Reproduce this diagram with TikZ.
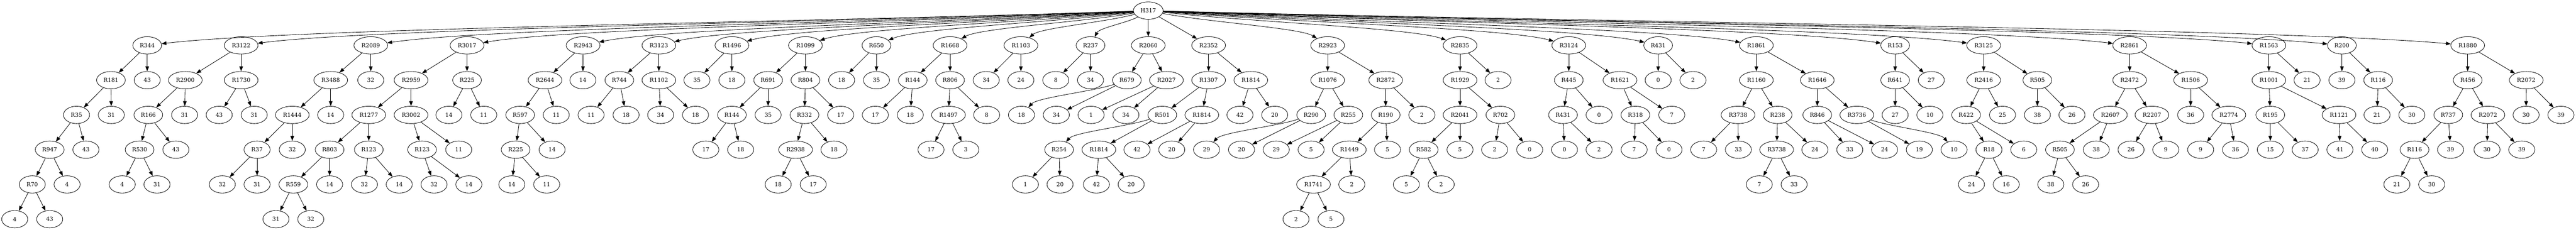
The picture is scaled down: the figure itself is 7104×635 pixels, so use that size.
\documentclass[tikz,border=0pt]{standalone}
\usepackage{fontspec}
\setmainfont{DejaVu Serif}
\usetikzlibrary{shapes.geometric,arrows.meta,calc}
\tikzset{
  gv/.style={draw, ellipse, line width=0.9pt, inner xsep=5.6pt, inner ysep=0pt,
    minimum width=54pt, minimum height=35.9pt, font=\fontsize{11.6pt}{13pt}\selectfont},
  conn/.style={line width=0.9pt, -{Triangle[length=10pt,width=7.5pt]}}
}
\newcommand\nd[4]{\node[gv] (T#1) at ({#3},{-29.3-96*#4}) {#2};}
\newcommand\E[3]{\draw[conn] (T#1) -- (T#2); \draw[conn] (T#1) -- (T#3);}
\newcommand\CV[2]{\draw[conn] (T#1) .. controls ($(T#1)!0.33!(T#2)$) and ($(T#1)!0.85!(T#2)+(0,33.6)$) .. (T#2);}
\begin{document}
\begin{tikzpicture}[x=0.75pt,y=0.75pt]
\useasboundingbox (0,0) rectangle (7104,-635);
\nd{h}{H317}{3166.6}{0}
% a
\nd{a1}{R344}{406}{1}
\nd{a11}{R181}{306}{2}
\nd{a12}{43}{406}{2}
\nd{a111}{R35}{211}{3}
\nd{a112}{31}{307}{3}
\nd{a1111}{R947}{137}{4}
\nd{a1112}{43}{237}{4}
\nd{a11111}{R70}{89}{5}
\nd{a11112}{4}{185}{5}
\nd{a111111}{4}{40.6}{6}
\nd{a111112}{43}{137}{6}
% b
\nd{b}{R3122}{665}{1}
\nd{b1}{R2900}{511}{2}
\nd{b2}{R1730}{665}{2}
\nd{b11}{R166}{409}{3}
\nd{b12}{31}{509}{3}
\nd{b111}{R530}{385}{4}
\nd{b112}{43}{485}{4}
\nd{b1111}{4}{337}{5}
\nd{b1112}{31}{433}{5}
\nd{b21}{43}{604.5}{3}
\nd{b22}{31}{701}{3}
% c
\nd{c}{R2089}{1022.5}{1}
\nd{c1}{R3488}{912}{2}
\nd{c2}{32}{1022.5}{2}
\nd{c11}{R1444}{806}{3}
\nd{c12}{14}{912}{3}
\nd{c111}{R37}{709}{4}
\nd{c112}{32}{806}{4}
\nd{c1111}{32}{613}{5}
\nd{c1112}{31}{709}{5}
% d
\nd{d}{R3017}{1288}{1}
\nd{d1}{R2959}{1133.5}{2}
\nd{d2}{R225}{1288}{2}
\nd{d11}{R1277}{1017}{3}
\nd{d12}{R3002}{1133.5}{3}
\nd{d111}{R803}{909}{4}
\nd{d112}{R123}{1017}{4}
\nd{d1111}{R559}{809}{5}
\nd{d1112}{14}{909}{5}
\nd{d11111}{31}{761}{6}
\nd{d11112}{32}{857}{6}
\nd{d1121}{32}{1005}{5}
\nd{d1122}{14}{1101}{5}
\nd{d121}{R123}{1164}{4}
\nd{d122}{11}{1265}{4}
\nd{d1211}{32}{1197}{5}
\nd{d1212}{14}{1293}{5}
\nd{d21}{14}{1238}{3}
\nd{d22}{11}{1334}{3}
% e
\nd{e}{R2943}{1608}{1}
\nd{e1}{R2644}{1503}{2}
\nd{e2}{14}{1607.5}{2}
\nd{e11}{R597}{1434.5}{3}
\nd{e12}{11}{1534}{3}
\nd{e111}{R225}{1422}{4}
\nd{e112}{14}{1522.5}{4}
\nd{e1111}{14}{1411.5}{5}
\nd{e1112}{11}{1507.6}{5}
% f
\nd{f}{R3123}{1817}{1}
\nd{f1}{R744}{1708}{2}
\nd{f2}{R1102}{1817}{2}
\nd{f11}{11}{1630}{3}
\nd{f12}{18}{1726.5}{3}
\nd{f21}{34}{1822}{3}
\nd{f22}{18}{1918}{3}
% g
\nd{g}{R1496}{2018.4}{1}
\nd{g1}{35}{1922}{2}
\nd{g2}{18}{2018.4}{2}
% i
\nd{i}{R1099}{2221.2}{1}
\nd{i1}{R691}{2118.3}{2}
\nd{i2}{R804}{2221.2}{2}
\nd{i11}{R144}{2018.4}{3}
\nd{i12}{35}{2118.3}{3}
\nd{i111}{17}{1946.4}{4}
\nd{i112}{18}{2042.5}{4}
\nd{i21}{R332}{2218.5}{3}
\nd{i22}{17}{2318.4}{3}
\nd{i211}{R2938}{2194}{4}
\nd{i212}{18}{2300}{4}
\nd{i2111}{18}{2146}{5}
\nd{i2112}{17}{2242.6}{5}
% j
\nd{j}{R650}{2417}{1}
\nd{j1}{18}{2321}{2}
\nd{j2}{35}{2417}{2}
% k
\nd{k}{R1668}{2620}{1}
\nd{k1}{R144}{2517}{2}
\nd{k2}{R806}{2620}{2}
\nd{k11}{17}{2414}{3}
\nd{k12}{18}{2510.4}{3}
\nd{k21}{R1497}{2615.6}{3}
\nd{k22}{8}{2721}{3}
\nd{k211}{17}{2567.4}{4}
\nd{k212}{3}{2663.5}{4}
% l
\nd{l}{R1103}{2815.4}{1}
\nd{l1}{34}{2719.7}{2}
\nd{l2}{24}{2815.4}{2}
% m
\nd{m}{R237}{3007.4}{1}
\nd{m1}{8}{2911.5}{2}
\nd{m2}{34}{3007.4}{2}
% n
\nd{n}{R2060}{3166.6}{1}
\nd{n1}{R679}{3107.7}{2}
\nd{n2}{R2027}{3216.7}{2}
\nd{n11}{18}{2817}{3}
\nd{n12}{34}{2913}{3}
\nd{n21}{1}{3009}{3}
\nd{n22}{34}{3105}{3}
% o
\nd{o}{R2352}{3333}{1}
\nd{o1}{R1307}{3333}{2}
\nd{o2}{R1814}{3449.4}{2}
\nd{o11}{R501}{3205.3}{3}
\nd{o12}{R1814}{3314.3}{3}
\nd{o111}{R254}{2920.7}{4}
\nd{o112}{R1814}{3030.4}{4}
\nd{o1111}{1}{2827.7}{5}
\nd{o1112}{20}{2923.3}{5}
\nd{o1121}{42}{3023.5}{5}
\nd{o1122}{20}{3119.5}{5}
\nd{o121}{42}{3135.6}{4}
\nd{o122}{20}{3231.3}{4}
\nd{o21}{42}{3419.6}{3}
\nd{o22}{20}{3515.3}{3}
% p
\nd{p}{R2923}{3661.3}{1}
\nd{p1}{R1076}{3661.3}{2}
\nd{p2}{R2872}{3821.3}{2}
\nd{p11}{R290}{3615.8}{3}
\nd{p12}{R255}{3718.3}{3}
\nd{p111}{29}{3327.3}{4}
\nd{p112}{20}{3423.8}{4}
\nd{p121}{29}{3519.5}{4}
\nd{p122}{5}{3615.8}{4}
\nd{p21}{R190}{3821.3}{3}
\nd{p22}{2}{3921.2}{3}
\nd{p211}{R1449}{3721}{4}
\nd{p212}{5}{3826.3}{4}
\nd{p2111}{R1741}{3622.3}{5}
\nd{p2112}{2}{3728}{5}
\nd{p21111}{2}{3574}{6}
\nd{p21112}{5}{3670.5}{6}
% q
\nd{q}{R2835}{4026.4}{1}
\nd{q1}{R1929}{4026.4}{2}
\nd{q2}{2}{4131.3}{2}
\nd{q11}{R2041}{4026.4}{3}
\nd{q12}{R702}{4137.7}{3}
\nd{q111}{R582}{3926.1}{4}
\nd{q112}{5}{4026.4}{4}
\nd{q1111}{5}{3878.3}{5}
\nd{q1112}{2}{3974.4}{5}
\nd{q121}{2}{4121.7}{4}
\nd{q122}{0}{4218.4}{4}
% r
\nd{r}{R3124}{4326.3}{1}
\nd{r1}{R445}{4326.3}{2}
\nd{r2}{R1621}{4467.5}{2}
\nd{r11}{R431}{4310.3}{3}
\nd{r12}{0}{4410}{3}
\nd{r111}{0}{4314.5}{4}
\nd{r112}{2}{4410}{4}
\nd{r21}{R318}{4510}{3}
\nd{r22}{7}{4610.3}{3}
\nd{r211}{7}{4506.6}{4}
\nd{r212}{0}{4602.6}{4}
% s
\nd{s}{R431}{4572.8}{1}
\nd{s1}{0}{4572.8}{2}
\nd{s2}{2}{4668.8}{2}
% t
\nd{t}{R1861}{4843.6}{1}
\nd{t1}{R1160}{4843.6}{2}
\nd{t2}{R1646}{5011.6}{2}
\nd{t11}{R3738}{4793}{3}
\nd{t12}{R238}{4902.2}{3}
\nd{t111}{7}{4698.3}{4}
\nd{t112}{33}{4793.9}{4}
\nd{t121}{R3738}{4899.5}{4}
\nd{t122}{24}{5005}{4}
\nd{t1211}{7}{4851.6}{5}
\nd{t1212}{33}{4947.7}{5}
\nd{t21}{R846}{5011.6}{3}
\nd{t22}{R3736}{5120.7}{3}
\nd{t211}{33}{5101.2}{4}
\nd{t212}{24}{5197.2}{4}
\nd{t221}{19}{5293}{4}
\nd{t222}{10}{5388.8}{4}
% u
\nd{u}{R153}{5226.3}{1}
\nd{u1}{R641}{5226.3}{2}
\nd{u2}{27}{5326}{2}
\nd{u11}{27}{5226.3}{3}
\nd{u12}{10}{5322.2}{3}
% v
\nd{v}{R3125}{5470.4}{1}
\nd{v1}{R2416}{5470.4}{2}
\nd{v2}{R505}{5618.5}{2}
\nd{v11}{R422}{5422}{3}
\nd{v12}{25}{5522.4}{3}
\nd{v111}{R18}{5485}{4}
\nd{v112}{6}{5581}{4}
\nd{v1111}{24}{5436.7}{5}
\nd{v1112}{16}{5532.7}{5}
\nd{v21}{38}{5618.5}{3}
\nd{v22}{26}{5714}{3}
% w
\nd{w}{R2861}{5873}{1}
\nd{w1}{R2472}{5873}{2}
\nd{w2}{R1506}{6041.2}{2}
\nd{w11}{R2607}{5819.8}{3}
\nd{w12}{R2207}{5934.4}{3}
\nd{w111}{R505}{5680.8}{4}
\nd{w112}{38}{5781}{4}
\nd{w1111}{38}{5655.6}{5}
\nd{w1112}{26}{5751.6}{5}
\nd{w121}{26}{5876.8}{4}
\nd{w122}{9}{5972.7}{4}
\nd{w21}{36}{6041.2}{3}
\nd{w22}{R2774}{6146.5}{3}
\nd{w221}{9}{6068.8}{4}
\nd{w222}{36}{6164.8}{4}
% x
\nd{x}{R1563}{6257}{1}
\nd{x1}{R1001}{6257}{2}
\nd{x2}{21}{6362.3}{2}
\nd{x11}{R195}{6260.9}{3}
\nd{x12}{R1121}{6450.3}{3}
\nd{x111}{15}{6260.9}{4}
\nd{x112}{37}{6357}{4}
\nd{x121}{41}{6453}{4}
\nd{x122}{40}{6548.8}{4}
% y
\nd{y}{R200}{6458.4}{1}
\nd{y1}{39}{6458.4}{2}
\nd{y2}{R116}{6558.3}{2}
\nd{y21}{21}{6555.3}{3}
\nd{y22}{30}{6651.3}{3}
% z
\nd{z}{R1880}{6805.2}{1}
\nd{z1}{R456}{6805.2}{2}
\nd{z2}{R2072}{6966.7}{2}
\nd{z11}{R737}{6751.6}{3}
\nd{z12}{R2072}{6861}{3}
\nd{z111}{R116}{6658.6}{4}
\nd{z112}{39}{6758}{4}
\nd{z1111}{21}{6610}{5}
\nd{z1112}{30}{6706}{5}
\nd{z121}{30}{6858.4}{4}
\nd{z122}{39}{6954.4}{4}
\nd{z21}{30}{6966.3}{3}
\nd{z22}{39}{7062.4}{3}
% root edges
\foreach \c in {a1,b,c,d,e,f,g,i,j,k,l,m,p,q,r,s,t,u,v,w,x,y,z}{\CV{h}{\c}}
\draw[conn] (Th) -- (Tn);
\draw[conn] (Th) -- (To);
% subtree edges
\E{a1}{a11}{a12}\E{a11}{a111}{a112}\E{a111}{a1111}{a1112}\E{a1111}{a11111}{a11112}\E{a11111}{a111111}{a111112}
\E{b}{b1}{b2}\E{b1}{b11}{b12}\E{b11}{b111}{b112}\E{b111}{b1111}{b1112}\E{b2}{b21}{b22}
\E{c}{c1}{c2}\E{c1}{c11}{c12}\E{c11}{c111}{c112}\E{c111}{c1111}{c1112}
\E{d}{d1}{d2}\E{d1}{d11}{d12}\E{d11}{d111}{d112}\E{d111}{d1111}{d1112}\E{d1111}{d11111}{d11112}\E{d112}{d1121}{d1122}\E{d12}{d121}{d122}\E{d121}{d1211}{d1212}\E{d2}{d21}{d22}
\E{e}{e1}{e2}\E{e1}{e11}{e12}\E{e11}{e111}{e112}\E{e111}{e1111}{e1112}
\E{f}{f1}{f2}\E{f1}{f11}{f12}\E{f2}{f21}{f22}
\E{g}{g1}{g2}
\E{i}{i1}{i2}\E{i1}{i11}{i12}\E{i11}{i111}{i112}\E{i2}{i21}{i22}\E{i21}{i211}{i212}\E{i211}{i2111}{i2112}
\E{j}{j1}{j2}
\E{k}{k1}{k2}\E{k1}{k11}{k12}\E{k2}{k21}{k22}\E{k21}{k211}{k212}
\E{l}{l1}{l2}
\E{m}{m1}{m2}
\E{n}{n1}{n2}\CV{n1}{n11}\draw[conn] (Tn1) -- (Tn12);\E{n2}{n21}{n22}
\E{o}{o1}{o2}\E{o1}{o11}{o12}\CV{o11}{o111}\draw[conn] (To11) -- (To112);\E{o111}{o1111}{o1112}\E{o112}{o1121}{o1122}\E{o12}{o121}{o122}\E{o2}{o21}{o22}
\E{p}{p1}{p2}\E{p1}{p11}{p12}\CV{p11}{p111}\draw[conn] (Tp11) -- (Tp112);\E{p12}{p121}{p122}\E{p2}{p21}{p22}\E{p21}{p211}{p212}\E{p211}{p2111}{p2112}\E{p2111}{p21111}{p21112}
\E{q}{q1}{q2}\E{q1}{q11}{q12}\E{q11}{q111}{q112}\E{q111}{q1111}{q1112}\E{q12}{q121}{q122}
\E{r}{r1}{r2}\E{r1}{r11}{r12}\E{r11}{r111}{r112}\E{r2}{r21}{r22}\E{r21}{r211}{r212}
\E{s}{s1}{s2}
\E{t}{t1}{t2}\E{t1}{t11}{t12}\E{t11}{t111}{t112}\E{t12}{t121}{t122}\E{t121}{t1211}{t1212}\E{t2}{t21}{t22}\E{t21}{t211}{t212}\draw[conn] (Tt22) -- (Tt221);\CV{t22}{t222}
\E{u}{u1}{u2}\E{u1}{u11}{u12}
\E{v}{v1}{v2}\E{v1}{v11}{v12}\E{v11}{v111}{v112}\E{v111}{v1111}{v1112}\E{v2}{v21}{v22}
\E{w}{w1}{w2}\E{w1}{w11}{w12}\E{w11}{w111}{w112}\E{w111}{w1111}{w1112}\E{w12}{w121}{w122}\E{w2}{w21}{w22}\E{w22}{w221}{w222}
\E{x}{x1}{x2}\E{x1}{x11}{x12}\E{x11}{x111}{x112}\E{x12}{x121}{x122}
\E{y}{y1}{y2}\E{y2}{y21}{y22}
\E{z}{z1}{z2}\E{z1}{z11}{z12}\E{z11}{z111}{z112}\E{z111}{z1111}{z1112}\E{z12}{z121}{z122}\E{z2}{z21}{z22}
\end{tikzpicture}
\end{document}
